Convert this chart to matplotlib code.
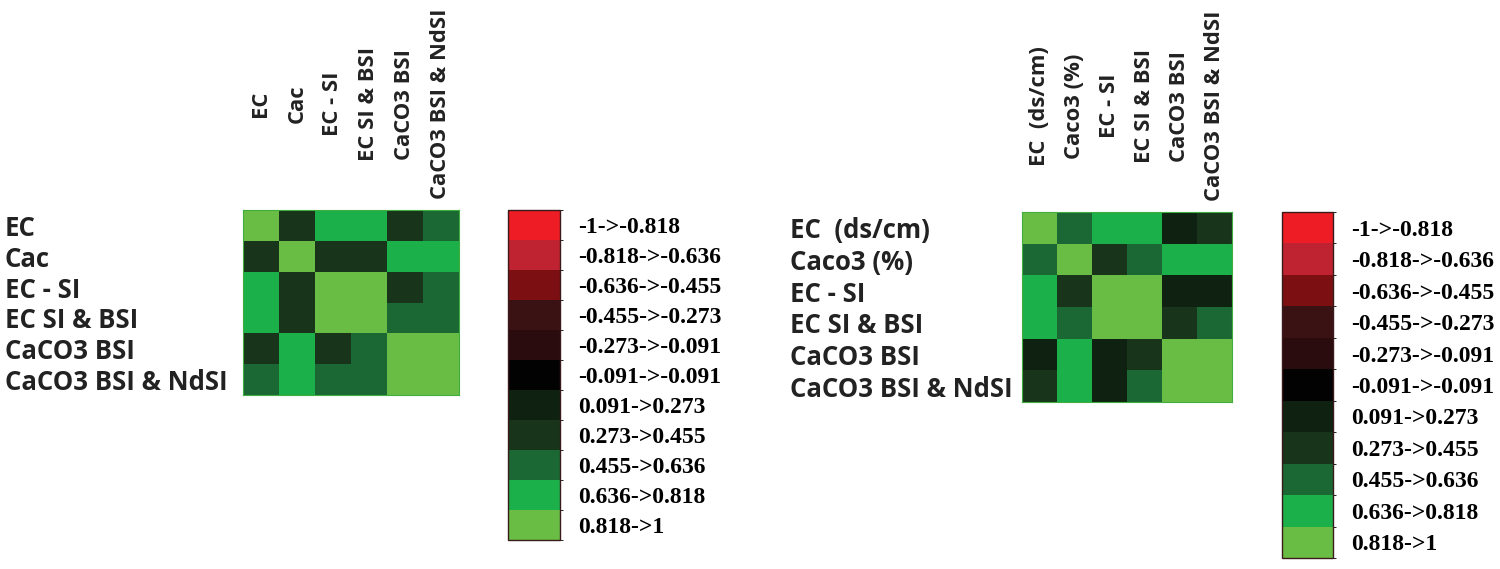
import numpy as np
import matplotlib
matplotlib.use("Agg")
import matplotlib.pyplot as plt
from matplotlib.colors import ListedColormap, BoundaryNorm
from matplotlib.cm import ScalarMappable
from matplotlib.font_manager import FontProperties

# ---------------- data ----------------
left_labels = ["EC", "Cac", "EC - SI", "EC SI & BSI", "CaCO3 BSI", "CaCO3 BSI & NdSI"]
right_labels = ["EC  (ds/cm)", "Caco3 (%)", "EC - SI", "EC SI & BSI", "CaCO3 BSI", "CaCO3 BSI & NdSI"]

left_corr = [
    [1.00, 0.36, 0.73, 0.73, 0.36, 0.55],
    [0.36, 1.00, 0.36, 0.36, 0.73, 0.73],
    [0.73, 0.36, 1.00, 0.90, 0.36, 0.55],
    [0.73, 0.36, 0.90, 1.00, 0.55, 0.55],
    [0.36, 0.73, 0.36, 0.55, 1.00, 0.90],
    [0.55, 0.73, 0.55, 0.55, 0.90, 1.00],
]
right_corr = [
    [1.00, 0.55, 0.73, 0.73, 0.18, 0.36],
    [0.55, 1.00, 0.36, 0.55, 0.73, 0.73],
    [0.73, 0.36, 1.00, 0.90, 0.18, 0.18],
    [0.73, 0.55, 0.90, 1.00, 0.36, 0.55],
    [0.18, 0.73, 0.18, 0.36, 1.00, 0.90],
    [0.36, 0.73, 0.18, 0.55, 0.90, 1.00],
]

bin_edges = [-1, -0.818, -0.636, -0.455, -0.273, -0.091, 0.091, 0.273, 0.455, 0.636, 0.818, 1]
bin_labels = ["-1->-0.818", "-0.818->-0.636", "-0.636->-0.455", "-0.455->-0.273",
              "-0.273->-0.091", "-0.091->-0.091", "0.091->0.273", "0.273->0.455",
              "0.455->0.636", "0.636->0.818", "0.818->1"]
bin_colors = ["#ee1c25", "#bf2230", "#7b0f12", "#3a1214", "#2a0c0e", "#020202",
              "#0f2111", "#18341a", "#1b6834", "#1cb04b", "#6abd44"]

# ---------------- figure ----------------
W, H, DPI = 1500, 569, 100
fig = plt.figure(figsize=(W / DPI, H / DPI), dpi=DPI)
cmap = ListedColormap(bin_colors)
norm = BoundaryNorm(bin_edges, cmap.N)

row_font = dict(family="Open Sans", weight="bold", size=18.5, color="#222222")
col_font = dict(family="Open Sans", weight="bold", size=15.8, color="#222222")
leg_fp = FontProperties(family="Liberation Serif", weight="bold", size=17)


def px_box(x0, y0, x1, y1):
    return [x0 / W, 1 - y1 / H, (x1 - x0) / W, (y1 - y0) / H]


def heatmap(box, data, labels, row_x, col_center_y):
    ax = fig.add_axes(px_box(*box))
    arr = np.array(data)
    ax.pcolormesh(arr, cmap=cmap, norm=norm)
    ax.set_xlim(0, arr.shape[1])
    ax.set_ylim(arr.shape[0], 0)
    n = len(labels)
    ax.set_yticks(np.arange(n) + 0.5)
    ax.set_yticklabels(labels, ha="left", **row_font)
    ax.tick_params(axis="y", length=0, pad=(box[0] - row_x) * 72 / DPI)
    ax.xaxis.tick_top()
    ax.set_xticks(np.arange(n) + 0.5)
    ax.set_xticklabels(labels, rotation=90, va="center", ha="center", **col_font)
    ax.tick_params(axis="x", length=0, pad=(box[1] - col_center_y) * 72 / DPI)
    for s in ax.spines.values():
        s.set_color("#3fae3f")
        s.set_linewidth(0.8)
    return ax


def legend_bar(box):
    cax = fig.add_axes(px_box(*box))
    sm = ScalarMappable(norm=norm, cmap=cmap)
    cb = fig.colorbar(sm, cax=cax, orientation="vertical", spacing="uniform")
    cax.invert_yaxis()
    centers = [(a + b) / 2 for a, b in zip(bin_edges[:-1], bin_edges[1:])]
    cb.set_ticks(centers)
    cb.set_ticklabels(bin_labels)
    for t in cax.get_yticklabels():
        t.set_fontproperties(leg_fp)
    cax.tick_params(length=0, pad=13)
    cb.outline.set_edgecolor("#3a1a1a")
    cb.outline.set_linewidth(1.0)
    return cax


heatmap((243, 210, 459, 395), left_corr, left_labels, row_x=5, col_center_y=104)
heatmap((1022, 212, 1232, 402), right_corr, right_labels, row_x=790, col_center_y=106)
legend_bar((508, 210, 560, 540))
legend_bar((1282, 212, 1333, 558))

fig.savefig("out.png", dpi=DPI, facecolor="white")
